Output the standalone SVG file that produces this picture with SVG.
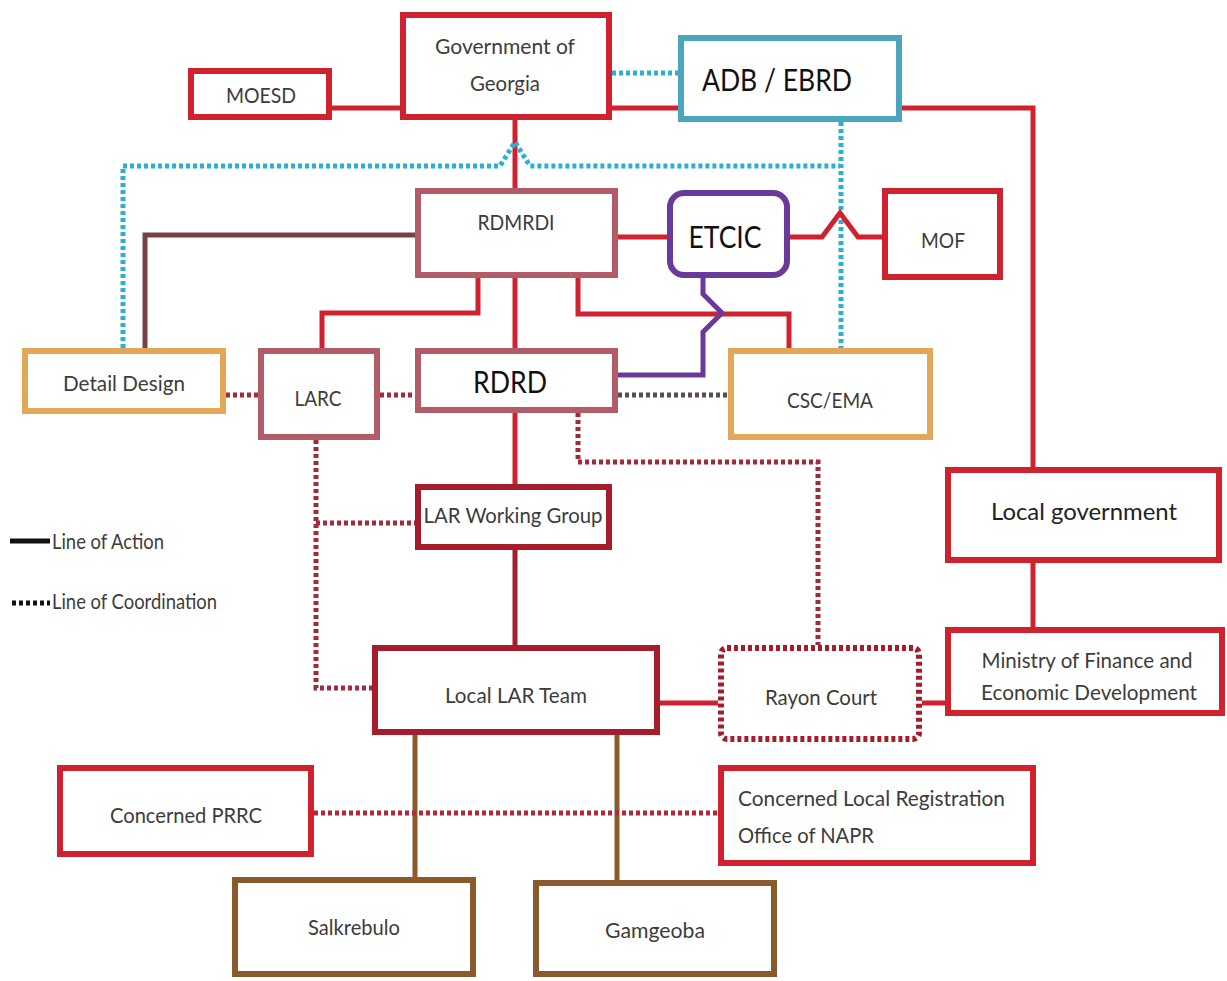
<svg xmlns="http://www.w3.org/2000/svg" width="1227" height="981" viewBox="0 0 1227 981">
<style>
.box{fill:#fff;stroke-width:6}
.red{stroke:#d0222e}
.dred{stroke:#a51d2c}
.rose{stroke:#b25c68}
.org{stroke:#e3a857}
.teal{stroke:#4ba6bd}
.brn{stroke:#8b5a2b}
.pur{stroke:#6a3a9a}
text{font-family:Lato,"Open Sans","Liberation Sans",sans-serif;font-size:22px;fill:#3c3c3c;text-anchor:middle}
.big{font-size:31px;fill:#111}
.ln{fill:none;stroke-width:5}
.dot{fill:none;stroke-width:5;stroke-dasharray:4 3}
</style>
<rect width="1227" height="981" fill="#fff"/>
<g id="connectors">
<path class="ln red" d="M332 108H400"/>
<path class="dot" stroke="#2cb0d0" d="M612 73H678"/>
<path class="ln red" d="M612 108H678"/>
<path class="ln red" d="M902 108H1033V467"/>
<path class="ln red" d="M515 120V188"/>
<path class="dot" stroke="#2cb0d0" d="M123 348V166H500L515 142L530 166H840"/>
<path class="dot" stroke="#2cb0d0" d="M841 122V348"/>
<path class="ln" stroke="#7a4048" d="M415 235H145V348"/>
<path class="ln red" d="M618 237H667"/>
<path class="ln red" d="M790 237H822L840 213L858 237H882"/>
<path class="ln red" d="M478 278V313H322V348"/>
<path class="ln red" d="M515 278V348"/>
<path class="ln red" d="M578 278V314H789V348"/>
<path class="ln pur" d="M703 278V294L722 313L703 332V375H618"/>
<path class="dot" stroke="#a32a3a" d="M226 395H258"/>
<path class="dot" stroke="#a32a3a" d="M380 395H415"/>
<path class="dot" stroke="#5a4a55" d="M618 395H728"/>
<path class="ln red" d="M515 413V484"/>
<path class="dot" stroke="#a32a3a" d="M578 413V462H818V645"/>
<path class="dot" stroke="#a32a3a" d="M316 440V688H372"/>
<path class="dot" stroke="#a32a3a" d="M316 523H415"/>
<path class="ln dred" d="M515 550V645"/>
<path class="ln red" d="M660 703H718"/>
<path class="ln red" d="M922 703H945"/>
<path class="ln red" d="M1033 563V627"/>
<path class="ln brn" d="M415 735V877"/>
<path class="ln brn" d="M617 735V880"/>
<path class="dot" stroke="#b0283a" d="M314 813H718"/>
</g>
<g id="legend">
<path d="M10 541H50" stroke="#111" stroke-width="5"/>
<text x="52" y="549" style="text-anchor:start;font-size:21px" textLength="112" lengthAdjust="spacingAndGlyphs">Line of Action</text>
<path d="M12 603H50" stroke="#111" stroke-width="5" stroke-dasharray="4 3"/>
<text x="52" y="609" style="text-anchor:start;font-size:21px" textLength="165" lengthAdjust="spacingAndGlyphs">Line of Coordination</text>
</g>
<g id="moesd"><rect class="box red" x="191" y="71" width="138" height="46"/><text x="261" y="103" textLength="70" lengthAdjust="spacingAndGlyphs">MOESD</text></g>
<g id="gov"><rect class="box red" x="403" y="15" width="206" height="102"/><text x="505" y="54" textLength="140" lengthAdjust="spacingAndGlyphs">Government of</text><text x="505" y="91" textLength="70" lengthAdjust="spacingAndGlyphs">Georgia</text></g>
<g id="adb"><rect class="box teal" x="681" y="38" width="218" height="81"/><text class="big" x="777" y="91" textLength="150" lengthAdjust="spacingAndGlyphs">ADB / EBRD</text></g>
<g id="rdmrdi"><rect class="box rose" x="418" y="191" width="197" height="84"/><text x="516" y="230" textLength="77" lengthAdjust="spacingAndGlyphs">RDMRDI</text></g>
<g id="etcic"><rect class="box pur" x="670" y="193" width="117" height="82" rx="14"/><text class="big" x="725" y="248" textLength="73" lengthAdjust="spacingAndGlyphs">ETCIC</text></g>
<g id="mof"><rect class="box red" x="885" y="191" width="115" height="86"/><text x="943" y="248" textLength="44" lengthAdjust="spacingAndGlyphs">MOF</text></g>
<g id="detail"><rect class="box org" x="25" y="351" width="198" height="60"/><text x="124" y="391" textLength="122" lengthAdjust="spacingAndGlyphs">Detail Design</text></g>
<g id="larc"><rect class="box rose" x="261" y="351" width="116" height="86"/><text x="318" y="406" textLength="47" lengthAdjust="spacingAndGlyphs">LARC</text></g>
<g id="rdrd"><rect class="box rose" x="418" y="351" width="197" height="59"/><text class="big" x="510" y="393" textLength="74" lengthAdjust="spacingAndGlyphs">RDRD</text></g>
<g id="csc"><rect class="box org" x="731" y="351" width="199" height="86"/><text x="830" y="408" textLength="86" lengthAdjust="spacingAndGlyphs">CSC/EMA</text></g>
<g id="larwg"><rect class="box dred" x="418" y="487" width="191" height="60"/><text x="513" y="523" textLength="179" lengthAdjust="spacingAndGlyphs">LAR Working Group</text></g>
<g id="localgov"><rect class="box red" x="948" y="470" width="271" height="90"/><text x="1084" y="520" style="font-size:24px;fill:#222" textLength="186" lengthAdjust="spacingAndGlyphs">Local government</text></g>
<g id="ministry"><rect class="box red" x="948" y="630" width="274" height="83"/><text x="1087" y="668" textLength="211" lengthAdjust="spacingAndGlyphs">Ministry of Finance and</text><text x="1089" y="700" textLength="216" lengthAdjust="spacingAndGlyphs">Economic Development</text></g>
<g id="locallar"><rect class="box dred" x="375" y="648" width="282" height="84"/><text x="516" y="703" textLength="142" lengthAdjust="spacingAndGlyphs">Local LAR Team</text></g>
<g id="rayon"><rect x="721" y="648" width="198" height="91" rx="6" fill="#fff" stroke="#a51d2c" stroke-width="6" stroke-dasharray="4 3"/><text x="821" y="705" textLength="112" lengthAdjust="spacingAndGlyphs">Rayon Court</text></g>
<g id="prrc"><rect class="box red" x="60" y="768" width="251" height="86"/><text x="186" y="823" textLength="152" lengthAdjust="spacingAndGlyphs">Concerned PRRC</text></g>
<g id="napr"><rect class="box red" x="721" y="768" width="312" height="95"/><text x="738" y="806" style="text-anchor:start" textLength="267" lengthAdjust="spacingAndGlyphs">Concerned Local Registration</text><text x="738" y="843" style="text-anchor:start" textLength="136" lengthAdjust="spacingAndGlyphs">Office of NAPR</text></g>
<g id="salkrebulo"><rect class="box brn" x="235" y="880" width="238" height="94"/><text x="354" y="935" textLength="92" lengthAdjust="spacingAndGlyphs">Salkrebulo</text></g>
<g id="gamgeoba"><rect class="box brn" x="536" y="883" width="238" height="91"/><text x="655" y="938" textLength="100" lengthAdjust="spacingAndGlyphs">Gamgeoba</text></g>
</svg>
